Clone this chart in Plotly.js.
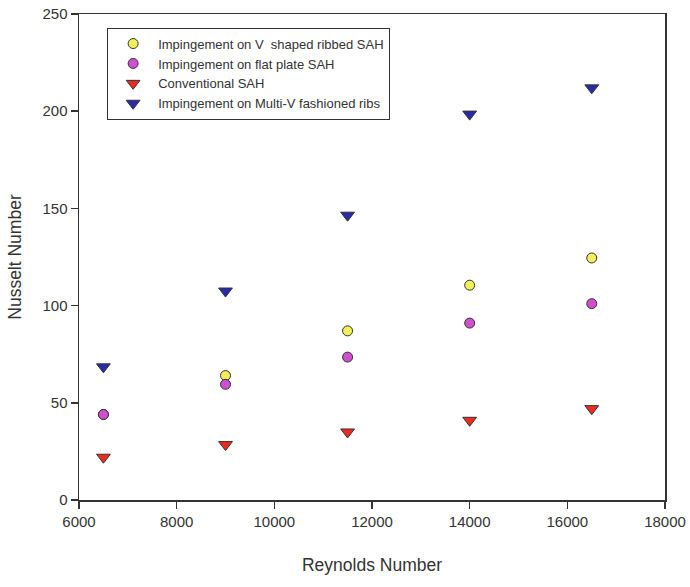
<!DOCTYPE html>
<html>
<head>
<meta charset="utf-8">
<script src="https://cdn.plot.ly/plotly-3.0.1.min.js"></script>
<style>html,body{margin:0;padding:0;background:#fff}#chart{width:690px;height:587px}</style>
</head>
<body>
<div id="chart"></div>
<script>
const reynolds = [6500, 9000, 11500, 14000, 16500];
const vShapedRibbed = [44, 64, 87, 110.5, 124.5];
const flatPlate = [44, 59.5, 73.5, 91, 101];
const conventional = [22, 28.5, 35, 41, 47];
const multiV = [68.5, 107.5, 146.5, 198.5, 212];
const seriesNames = [
  "Impingement on V  shaped ribbed SAH",
  "Impingement on flat plate SAH",
  "Conventional SAH",
  "Impingement on Multi-V fashioned ribs"
];
const xTicks = [6000, 8000, 10000, 12000, 14000, 16000, 18000];
const yTicks = [0, 50, 100, 150, 200, 250];

const FONT = "'Liberation Sans Narrow', 'Arial Narrow', 'Liberation Sans', Arial, sans-serif";
const outline = {color: "#333", width: 1};

const traces = [
  {x: reynolds, y: vShapedRibbed, name: seriesNames[0], mode: "markers", type: "scatter",
   marker: {symbol: "circle", size: 10, color: "#f2f05a", line: outline}},
  {x: reynolds, y: flatPlate, name: seriesNames[1], mode: "markers", type: "scatter",
   marker: {symbol: "circle", size: 10, color: "#cf4fcf", line: outline}},
  {x: reynolds, y: conventional, name: seriesNames[2], mode: "markers", type: "scatter",
   marker: {symbol: "triangle-down", size: 12, color: "#ee2b20", line: outline}},
  {x: reynolds, y: multiV, name: seriesNames[3], mode: "markers", type: "scatter",
   marker: {symbol: "triangle-down", size: 12, color: "#2a2aa8", line: outline}}
];

const layout = {
  width: 690, height: 587,
  margin: {l: 79, r: 25, t: 14, b: 87},
  paper_bgcolor: "#fff", plot_bgcolor: "#fff",
  font: {family: FONT, size: 14, color: "#333"},
  showlegend: true,
  legend: {
    x: 0.048, y: 0.972, xanchor: "left", yanchor: "top",
    bordercolor: "#333", borderwidth: 1, bgcolor: "#fff",
    font: {family: FONT, size: 13, color: "#333"},
    itemwidth: 40,
    tracegroupgap: 0
  },
  xaxis: {
    range: [6000, 18000], tickvals: xTicks, ticktext: xTicks.map(String),
    showgrid: false, zeroline: false,
    showline: true, linecolor: "#333", linewidth: 1.5, mirror: true,
    ticks: "outside", ticklen: 7, tickcolor: "#333", tickwidth: 1.5,
    tickfont: {family: FONT, size: 15, color: "#333"},
    title: {text: "Reynolds Number", font: {family: FONT, size: 17.5, color: "#333"}, standoff: 30}
  },
  yaxis: {
    range: [0, 250], tickvals: yTicks, ticktext: yTicks.map(String),
    showgrid: false, zeroline: false,
    showline: true, linecolor: "#333", linewidth: 1.5, mirror: true,
    ticks: "outside", ticklen: 7, tickcolor: "#333", tickwidth: 1.5,
    tickfont: {family: FONT, size: 15, color: "#333"},
    title: {text: "Nusselt Number", font: {family: FONT, size: 17.5, color: "#333"}, standoff: 16}
  }
};

Plotly.newPlot("chart", traces, layout, {displayModeBar: false, staticPlot: true});
</script>
</body>
</html>
